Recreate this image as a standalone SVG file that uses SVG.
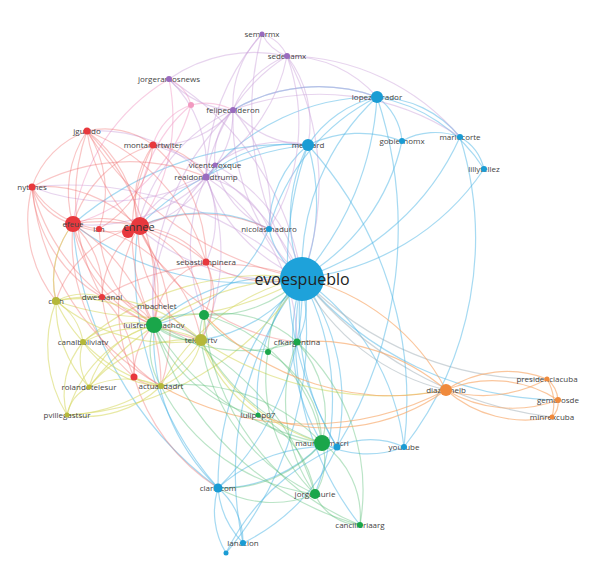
<svg xmlns="http://www.w3.org/2000/svg" width="598" height="570" viewBox="0 0 598 570">
<style>
#connectors path{fill:none;stroke-width:1.2}
.b{stroke:#4db6e6;stroke-opacity:.5}
.r{stroke:#f06a6a;stroke-opacity:.38}
.p{stroke:#c9a0da;stroke-opacity:.45}
.k{stroke:#f2a6cc;stroke-opacity:.55}
.y{stroke:#d9da6a;stroke-opacity:.6}
.g{stroke:#5cbf7a;stroke-opacity:.42}
.o{stroke:#f7a868;stroke-opacity:.65}
.gr{stroke:#a8b4bc;stroke-opacity:.55}
text{font-family:"Open Sans","DejaVu Sans",sans-serif;font-size:8px;fill:#444;text-anchor:middle}
.nb{fill:#1a9cd4}.nr{fill:#e8383d}.np{fill:#9a6bbf}.ng{fill:#1aa64a}.ny{fill:#b5b83a}.no{fill:#f08a3c}.nk{fill:#f29ac0}
</style>
<rect width="598" height="570" fill="#fff"/>
<g id="connectors">
<path class="b" d="M302 278A235 235 0 0 1 377 97"/>
<path class="b" d="M302 278A300 300 0 0 0 377 97"/>
<path class="b" d="M302 278A160 160 0 0 1 308 145"/>
<path class="b" d="M302 278A200 200 0 0 0 308 145"/>
<path class="b" d="M302 278A210 210 0 0 0 402 141"/>
<path class="b" d="M302 278A260 260 0 0 0 460 137"/>
<path class="b" d="M302 278A250 250 0 0 0 484 169"/>
<path class="b" d="M302 278A80 80 0 0 1 269 229"/>
<path class="b" d="M302 278A240 240 0 0 1 404 447"/>
<path class="b" d="M302 278A210 210 0 0 1 337 447"/>
<path class="b" d="M302 278A250 250 0 0 0 337 447"/>
<path class="b" d="M302 278A280 280 0 0 1 218 488"/>
<path class="b" d="M302 278A300 300 0 0 0 218 488"/>
<path class="b" d="M302 278A320 320 0 0 0 243 543"/>
<path class="b" d="M302 278A340 340 0 0 1 226 553"/>
<path class="b" d="M302 278A200 200 0 0 0 322 443"/>
<path class="b" d="M302 278A260 260 0 0 1 315 494"/>
<path class="b" d="M302 278A300 300 0 0 0 360 525"/>
<path class="gr" d="M302 278A220 220 0 0 0 446 390"/>
<path class="gr" d="M302 278A330 330 0 0 0 547 379"/>
<path class="b" d="M302 278A340 340 0 0 0 558 400"/>
<path class="gr" d="M302 278A380 380 0 0 0 552 417"/>
<path class="b" d="M302 278A80 80 0 0 1 297 342"/>
<path class="b" d="M302 278A180 180 0 0 0 258 415"/>
<path class="b" d="M302 278A150 150 0 0 1 201 340"/>
<path class="b" d="M302 278A190 190 0 0 0 154 325"/>
<path class="p" d="M302 278A210 210 0 0 1 138 227"/>
<path class="b" d="M302 278A290 290 0 0 1 73 224"/>
<path class="p" d="M302 278A340 340 0 0 0 32 187"/>
<path class="r" d="M302 278A320 320 0 0 1 87 131"/>
<path class="p" d="M302 278A240 240 0 0 0 153 145"/>
<path class="p" d="M302 278A170 170 0 0 1 206 177"/>
<path class="p" d="M302 278A170 170 0 0 0 215 165"/>
<path class="p" d="M302 278A220 220 0 0 1 233 110"/>
<path class="p" d="M302 278A270 270 0 0 0 287 56"/>
<path class="p" d="M302 278A300 300 0 0 1 262 34"/>
<path class="p" d="M302 278A290 290 0 0 0 169 79"/>
<path class="r" d="M302 278A120 120 0 0 1 206 262"/>
<path class="y" d="M302 278A210 210 0 0 0 161 386"/>
<path class="y" d="M302 278A300 300 0 0 1 56 301"/>
<path class="r" d="M302 278A240 240 0 0 0 102 297"/>
<path class="g" d="M302 278A130 130 0 0 1 204 315"/>
<path class="g" d="M302 278A100 100 0 0 0 268 352"/>
<path class="y" d="M302 278A280 280 0 0 0 83 342"/>
<path class="y" d="M302 278A300 300 0 0 1 67 415"/>
<path class="y" d="M302 278A280 280 0 0 0 89 387"/>
<path class="b" d="M377 97A110 110 0 0 0 308 145"/>
<path class="b" d="M377 97A60 60 0 0 1 402 141"/>
<path class="b" d="M377 97A110 110 0 0 1 460 137"/>
<path class="b" d="M377 97A160 160 0 0 1 484 169"/>
<path class="b" d="M402 141A70 70 0 0 1 460 137"/>
<path class="b" d="M460 137A50 50 0 0 1 484 169"/>
<path class="b" d="M308 145A120 120 0 0 1 402 141"/>
<path class="b" d="M308 145A110 110 0 0 0 269 229"/>
<path class="b" d="M377 97A210 210 0 0 0 269 229"/>
<path class="b" d="M308 145A380 380 0 0 1 404 447"/>
<path class="b" d="M308 145A360 360 0 0 0 337 447"/>
<path class="b" d="M460 137A340 340 0 0 1 404 447"/>
<path class="b" d="M377 97A420 420 0 0 1 337 447"/>
<path class="b" d="M218 488A70 70 0 0 1 243 543"/>
<path class="b" d="M218 488A80 80 0 0 0 226 553"/>
<path class="b" d="M218 488A90 90 0 0 0 243 543"/>
<path class="b" d="M218 488A140 140 0 0 0 322 443"/>
<path class="b" d="M218 488A160 160 0 0 1 337 447"/>
<path class="b" d="M218 488A330 330 0 0 1 138 227"/>
<path class="b" d="M218 488A360 360 0 0 1 73 224"/>
<path class="b" d="M218 488A210 210 0 0 1 154 325"/>
<path class="b" d="M404 447A100 100 0 0 1 322 443"/>
<path class="b" d="M404 447A80 80 0 0 0 337 447"/>
<path class="b" d="M337 447A200 200 0 0 1 243 543"/>
<path class="b" d="M337 447A220 220 0 0 0 226 553"/>
<path class="b" d="M308 145A130 130 0 0 0 206 177"/>
<path class="b" d="M377 97A220 220 0 0 0 206 177"/>
<path class="b" d="M377 97A170 170 0 0 0 233 110"/>
<path class="b" d="M308 145A330 330 0 0 0 73 224"/>
<path class="b" d="M308 145A280 280 0 0 0 138 227"/>
<path class="b" d="M269 229A150 150 0 0 0 138 227"/>
<path class="b" d="M269 229A170 170 0 0 1 154 325"/>
<path class="p" d="M262 34A40 40 0 0 1 287 56"/>
<path class="p" d="M262 34A45 45 0 0 0 287 56"/>
<path class="p" d="M262 34A100 100 0 0 0 233 110"/>
<path class="p" d="M262 34A220 220 0 0 0 206 177"/>
<path class="p" d="M287 56A95 95 0 0 0 233 110"/>
<path class="p" d="M287 56A150 150 0 0 0 169 79"/>
<path class="p" d="M287 56A180 180 0 0 0 206 177"/>
<path class="p" d="M287 56A170 170 0 0 1 215 165"/>
<path class="p" d="M287 56A120 120 0 0 1 377 97"/>
<path class="p" d="M287 56A230 230 0 0 1 460 137"/>
<path class="p" d="M287 56A110 110 0 0 1 308 145"/>
<path class="p" d="M287 56A200 200 0 0 1 269 229"/>
<path class="k" d="M169 79A40 40 0 0 1 191 105"/>
<path class="p" d="M169 79A90 90 0 0 0 233 110"/>
<path class="k" d="M169 79A190 190 0 0 1 138 227"/>
<path class="k" d="M169 79A200 200 0 0 0 73 224"/>
<path class="p" d="M169 79A120 120 0 0 1 206 177"/>
<path class="k" d="M191 105A150 150 0 0 0 138 227"/>
<path class="k" d="M191 105A170 170 0 0 1 73 224"/>
<path class="k" d="M191 105A60 60 0 0 0 153 145"/>
<path class="k" d="M191 105A60 60 0 0 1 233 110"/>
<path class="p" d="M233 110A90 90 0 0 1 206 177"/>
<path class="p" d="M233 110A70 70 0 0 0 215 165"/>
<path class="p" d="M233 110A170 170 0 0 0 138 227"/>
<path class="p" d="M233 110A100 100 0 0 1 153 145"/>
<path class="p" d="M233 110A170 170 0 0 1 377 97"/>
<path class="p" d="M233 110A100 100 0 0 0 308 145"/>
<path class="p" d="M233 110A260 260 0 0 0 154 325"/>
<path class="p" d="M233 110A150 150 0 0 1 269 229"/>
<path class="p" d="M233 110A250 250 0 0 1 460 137"/>
<path class="p" d="M206 177A90 90 0 0 1 269 229"/>
<path class="p" d="M206 177A100 100 0 0 0 138 227"/>
<path class="p" d="M206 177A160 160 0 0 1 73 224"/>
<path class="p" d="M206 177A150 150 0 0 0 87 131"/>
<path class="p" d="M206 177A210 210 0 0 1 32 187"/>
<path class="p" d="M206 177A180 180 0 0 0 154 325"/>
<path class="p" d="M206 177A100 100 0 0 1 206 262"/>
<path class="p" d="M206 177A200 200 0 0 1 201 340"/>
<path class="p" d="M206 177A170 170 0 0 0 204 315"/>
<path class="p" d="M206 177A200 200 0 0 1 297 342"/>
<path class="p" d="M215 165A90 90 0 0 0 269 229"/>
<path class="p" d="M215 165A110 110 0 0 1 138 227"/>
<path class="p" d="M215 165A110 110 0 0 1 308 145"/>
<path class="r" d="M87 131A80 80 0 0 1 153 145"/>
<path class="r" d="M87 131A90 90 0 0 0 32 187"/>
<path class="r" d="M87 131A110 110 0 0 0 73 224"/>
<path class="r" d="M87 131A130 130 0 0 1 138 227"/>
<path class="r" d="M87 131A160 160 0 0 0 138 227"/>
<path class="r" d="M87 131A110 110 0 0 1 99 229"/>
<path class="r" d="M87 131A240 240 0 0 1 154 325"/>
<path class="r" d="M87 131A200 200 0 0 0 102 297"/>
<path class="r" d="M87 131A200 200 0 0 1 206 262"/>
<path class="r" d="M153 145A100 100 0 0 0 138 227"/>
<path class="r" d="M153 145A120 120 0 0 0 73 224"/>
<path class="r" d="M153 145A110 110 0 0 1 99 229"/>
<path class="r" d="M153 145A70 70 0 0 1 206 177"/>
<path class="r" d="M153 145A150 150 0 0 1 206 262"/>
<path class="r" d="M153 145A200 200 0 0 0 154 325"/>
<path class="r" d="M32 187A60 60 0 0 0 73 224"/>
<path class="r" d="M32 187A130 130 0 0 1 138 227"/>
<path class="r" d="M32 187A90 90 0 0 0 99 229"/>
<path class="r" d="M32 187A200 200 0 0 1 206 177"/>
<path class="r" d="M32 187A140 140 0 0 0 102 297"/>
<path class="r" d="M32 187A130 130 0 0 0 56 301"/>
<path class="r" d="M32 187A200 200 0 0 0 154 325"/>
<path class="r" d="M32 187A260 260 0 0 0 161 386"/>
<path class="r" d="M73 224A80 80 0 0 1 138 227"/>
<path class="r" d="M73 224A90 90 0 0 0 138 227"/>
<path class="r" d="M73 224A130 130 0 0 0 154 325"/>
<path class="r" d="M73 224A90 90 0 0 1 102 297"/>
<path class="r" d="M73 224A170 170 0 0 0 201 340"/>
<path class="r" d="M73 224A190 190 0 0 1 161 386"/>
<path class="r" d="M73 224A160 160 0 0 1 206 262"/>
<path class="r" d="M73 224A90 90 0 0 0 56 301"/>
<path class="r" d="M73 224A180 180 0 0 0 134 377"/>
<path class="r" d="M138 227A120 120 0 0 1 154 325"/>
<path class="r" d="M138 227A90 90 0 0 1 206 262"/>
<path class="r" d="M138 227A130 130 0 0 0 201 340"/>
<path class="r" d="M138 227A90 90 0 0 0 102 297"/>
<path class="r" d="M138 227A180 180 0 0 1 161 386"/>
<path class="r" d="M138 227A170 170 0 0 0 134 377"/>
<path class="r" d="M138 227A110 110 0 0 0 56 301"/>
<path class="r" d="M138 227A100 100 0 0 1 204 315"/>
<path class="r" d="M138 227A200 200 0 0 0 297 342"/>
<path class="r" d="M138 227A160 160 0 0 1 269 229"/>
<path class="r" d="M99 229A120 120 0 0 0 154 325"/>
<path class="r" d="M99 229A140 140 0 0 1 201 340"/>
<path class="r" d="M102 297A60 60 0 0 1 154 325"/>
<path class="r" d="M102 297A100 100 0 0 1 134 377"/>
<path class="r" d="M102 297A120 120 0 0 0 161 386"/>
<path class="r" d="M206 262A70 70 0 0 0 154 325"/>
<path class="r" d="M206 262A80 80 0 0 1 201 340"/>
<path class="r" d="M206 262A60 60 0 0 1 204 315"/>
<path class="r" d="M134 377A70 70 0 0 1 154 325"/>
<path class="r" d="M134 377A40 40 0 0 0 161 386"/>
<path class="r" d="M134 377A200 200 0 0 0 218 488"/>
<path class="y" d="M56 301A60 60 0 0 1 83 342"/>
<path class="y" d="M56 301A120 120 0 0 0 89 387"/>
<path class="y" d="M56 301A130 130 0 0 0 67 415"/>
<path class="y" d="M56 301A180 180 0 0 0 201 340"/>
<path class="y" d="M56 301A160 160 0 0 1 201 340"/>
<path class="y" d="M56 301A150 150 0 0 0 161 386"/>
<path class="y" d="M56 301A120 120 0 0 1 154 325"/>
<path class="y" d="M56 301A60 60 0 0 1 102 297"/>
<path class="y" d="M56 301A90 90 0 0 1 73 224"/>
<path class="y" d="M83 342A50 50 0 0 0 89 387"/>
<path class="y" d="M83 342A80 80 0 0 0 67 415"/>
<path class="y" d="M83 342A140 140 0 0 1 201 340"/>
<path class="y" d="M83 342A100 100 0 0 0 161 386"/>
<path class="y" d="M83 342A80 80 0 0 1 154 325"/>
<path class="y" d="M89 387A40 40 0 0 0 67 415"/>
<path class="y" d="M89 387A90 90 0 0 1 161 386"/>
<path class="y" d="M89 387A130 130 0 0 1 201 340"/>
<path class="y" d="M89 387A90 90 0 0 1 154 325"/>
<path class="y" d="M67 415A110 110 0 0 0 161 386"/>
<path class="y" d="M67 415A170 170 0 0 0 201 340"/>
<path class="y" d="M67 415A130 130 0 0 1 154 325"/>
<path class="y" d="M201 340A60 60 0 0 1 161 386"/>
<path class="y" d="M201 340A330 330 0 0 0 446 390"/>
<path class="o" d="M161 386A300 300 0 0 0 446 390"/>
<path class="o" d="M297 342A200 200 0 0 1 446 390"/>
<path class="y" d="M201 340A60 60 0 0 0 204 315"/>
<path class="y" d="M201 340A160 160 0 0 0 258 415"/>
<path class="y" d="M201 340A200 200 0 0 0 322 443"/>
<path class="g" d="M154 325A70 70 0 0 1 204 315"/>
<path class="g" d="M154 325A60 60 0 0 0 201 340"/>
<path class="g" d="M154 325A70 70 0 0 1 201 340"/>
<path class="g" d="M154 325A70 70 0 0 0 161 386"/>
<path class="g" d="M154 325A170 170 0 0 0 297 342"/>
<path class="g" d="M154 325A250 250 0 0 0 322 443"/>
<path class="g" d="M154 325A260 260 0 0 1 315 494"/>
<path class="g" d="M154 325A140 140 0 0 0 258 415"/>
<path class="g" d="M154 325A300 300 0 0 0 360 525"/>
<path class="g" d="M204 315A40 40 0 0 0 201 340"/>
<path class="g" d="M204 315A110 110 0 0 1 297 342"/>
<path class="g" d="M204 315A80 80 0 0 0 268 352"/>
<path class="g" d="M204 315A160 160 0 0 1 322 443"/>
<path class="g" d="M204 315A250 250 0 0 0 360 525"/>
<path class="g" d="M268 352A40 40 0 0 1 297 342"/>
<path class="g" d="M268 352A110 110 0 0 1 322 443"/>
<path class="g" d="M268 352A160 160 0 0 0 315 494"/>
<path class="g" d="M297 342A110 110 0 0 1 322 443"/>
<path class="g" d="M297 342A160 160 0 0 0 315 494"/>
<path class="g" d="M297 342A200 200 0 0 1 360 525"/>
<path class="g" d="M258 415A80 80 0 0 0 322 443"/>
<path class="g" d="M258 415A110 110 0 0 1 315 494"/>
<path class="g" d="M322 443A60 60 0 0 1 315 494"/>
<path class="g" d="M322 443A90 90 0 0 1 360 525"/>
<path class="g" d="M315 494A50 50 0 0 0 360 525"/>
<path class="g" d="M322 443A130 130 0 0 1 218 488"/>
<path class="g" d="M315 494A110 110 0 0 1 218 488"/>
<path class="g" d="M315 494A200 200 0 0 1 201 340"/>
<path class="g" d="M322 443A220 220 0 0 1 201 340"/>
<path class="g" d="M161 386A190 190 0 0 1 322 443"/>
<path class="g" d="M161 386A200 200 0 0 0 315 494"/>
<path class="o" d="M446 390A110 110 0 0 1 547 379"/>
<path class="o" d="M446 390A130 130 0 0 0 547 379"/>
<path class="o" d="M446 390A120 120 0 0 1 558 400"/>
<path class="o" d="M446 390A130 130 0 0 0 558 400"/>
<path class="o" d="M446 390A120 120 0 0 0 552 417"/>
<path class="o" d="M547 379A30 30 0 0 1 558 400"/>
<path class="o" d="M547 379A50 50 0 0 1 552 417"/>
<path class="o" d="M558 400A20 20 0 0 1 552 417"/>
<path class="o" d="M446 390A220 220 0 0 0 302 278"/>
<path class="o" d="M446 390A200 200 0 0 1 258 415"/>
<path class="o" d="M446 390A260 260 0 0 1 204 315"/>
</g>
<g id="n-semarmx"><text x="262" y="37">semarmx</text><circle class="np" cx="262" cy="34" r="2.5"/></g>
<g id="n-sedenamx"><text x="287" y="59">sedenamx</text><circle class="np" cx="287" cy="56" r="3"/></g>
<g id="n-jorgeramosnews"><text x="169" y="82">jorgeramosnews</text><circle class="np" cx="169" cy="79" r="3"/></g>
<g id="n-pink"><circle class="nk" cx="191" cy="105" r="3"/></g>
<g id="n-felipecalderon"><text x="233" y="113">felipecalderon</text><circle class="np" cx="233" cy="110" r="3"/></g>
<g id="n-vicentefoxque"><text x="215" y="168">vicentefoxque</text><circle class="np" cx="215" cy="165" r="2.5"/></g>
<g id="n-realdonaldtrump"><text x="206" y="180">realdonaldtrump</text><circle class="np" cx="206" cy="177" r="3.5"/></g>
<g id="n-lopezobrador"><text x="377" y="100">lopezobrador</text><circle class="nb" cx="377" cy="97" r="6"/></g>
<g id="n-mebrard"><text x="308" y="148">mebrard</text><circle class="nb" cx="308" cy="145" r="6"/></g>
<g id="n-gobiernomx"><text x="402" y="144">gobiernomx</text><circle class="nb" cx="402" cy="141" r="3"/></g>
<g id="n-mariocorte"><text x="460" y="140">mariocorte</text><circle class="nb" cx="460" cy="137" r="3"/></g>
<g id="n-lillytellez"><text x="484" y="172">lillytellez</text><circle class="nb" cx="484" cy="169" r="3"/></g>
<g id="n-nicolasmaduro"><text x="269" y="232">nicolasmaduro</text><circle class="nb" cx="269" cy="229" r="3"/></g>
<g id="n-jguaido"><text x="87" y="134">jguaido</text><circle class="nr" cx="87" cy="131" r="3.5"/></g>
<g id="n-montanartwiter"><text x="153" y="148">montanartwiter</text><circle class="nr" cx="153" cy="145" r="3.5"/></g>
<g id="n-nytimes"><text x="32" y="190">nytimes</text><circle class="nr" cx="32" cy="187" r="3.5"/></g>
<g id="n-efeue"><circle class="nr" cx="73" cy="224" r="8"/><text x="73" y="227">efeue</text></g>
<g id="n-ian"><text x="99" y="232">ian</text><circle class="nr" cx="99" cy="229" r="3"/></g>
<g id="n-cnnee"><circle class="nr" cx="128" cy="232" r="6"/><circle class="nr" cx="140" cy="226" r="9"/><text x="139" y="231" style="font-size:11px;fill:#333">cnnee</text></g>
<g id="n-sebastianpinera"><text x="206" y="265">sebastianpinera</text><circle class="nr" cx="206" cy="262" r="3.5"/></g>
<g id="n-dwespanol"><text x="102" y="300">dwespanol</text><circle class="nr" cx="102" cy="297" r="3"/></g>
<g id="n-red2"><circle class="nr" cx="134" cy="377" r="3.5"/></g>
<g id="n-cidh"><text x="56" y="304">cidh</text><circle class="ny" cx="56" cy="301" r="4"/></g>
<g id="n-canalboliviatv"><text x="83" y="345">canalboliviatv</text><circle class="ny" cx="83" cy="342" r="3"/></g>
<g id="n-rolandotelesur"><text x="89" y="390">rolandotelesur</text><circle class="ny" cx="89" cy="387" r="2.5"/></g>
<g id="n-actualidadrt"><text x="161" y="389">actualidadrt</text><circle class="ny" cx="161" cy="386" r="3"/></g>
<g id="n-pvillegastsur"><text x="67" y="418">pvillegastsur</text><circle class="ny" cx="67" cy="415" r="2.5"/></g>
<g id="n-telesurtv"><text x="201" y="343">telesurtv</text><circle class="ny" cx="201" cy="340" r="6"/></g>
<g id="n-mbachelet"><text x="157" y="309">mbachelet</text></g>
<g id="n-luisfercamachov"><text x="154" y="328">luisfercamachov</text><circle class="ng" cx="154" cy="325" r="8"/></g>
<g id="n-green1"><circle class="ng" cx="204" cy="315" r="5"/></g>
<g id="n-green2"><circle class="ng" cx="268" cy="352" r="3"/></g>
<g id="n-cfkargentina"><text x="297" y="345">cfkargentina</text><circle class="ng" cx="297" cy="342" r="3.5"/></g>
<g id="n-lulipop07"><text x="258" y="418">lulipop07</text><circle class="ng" cx="258" cy="415" r="2.5"/></g>
<g id="n-mauriciomacri"><text x="322" y="446">mauriciomacri</text><circle class="ng" cx="322" cy="443" r="8"/></g>
<g id="n-blue-macri"><circle class="nb" cx="337" cy="447" r="3.5"/></g>
<g id="n-youtube"><text x="404" y="450">youtube</text><circle class="nb" cx="404" cy="447" r="3"/></g>
<g id="n-jorgefaurie"><text x="315" y="497">jorgefaurie</text><circle class="ng" cx="315" cy="494" r="5"/></g>
<g id="n-cancilleriaarg"><text x="360" y="528">cancilleriaarg</text><circle class="ng" cx="360" cy="525" r="3"/></g>
<g id="n-clarincom"><text x="218" y="491">clarincom</text><circle class="nb" cx="218" cy="488" r="4.5"/></g>
<g id="n-lanacion"><text x="243" y="546">lanacion</text><circle class="nb" cx="243" cy="543" r="3"/></g>
<g id="n-blue-small"><circle class="nb" cx="226" cy="553" r="2.5"/></g>
<g id="n-diazcanelb"><text x="446" y="393">diazcanelb</text><circle class="no" cx="446" cy="390" r="6"/></g>
<g id="n-presidenciacuba"><text x="547" y="382">presidenciacuba</text><circle class="no" cx="547" cy="379" r="2.5"/></g>
<g id="n-gemarosde"><text x="558" y="403">gemarosde</text><circle class="no" cx="558" cy="400" r="3"/></g>
<g id="n-minrexcuba"><text x="552" y="420">minrexcuba</text><circle class="no" cx="552" cy="417" r="2.5"/></g>
<g id="n-evoespueblo"><circle class="nb" cx="302" cy="279" r="22" style="fill:#1ea2da"/><text x="302" y="285" style="font-size:16px;fill:#222">evoespueblo</text></g>
</svg>
